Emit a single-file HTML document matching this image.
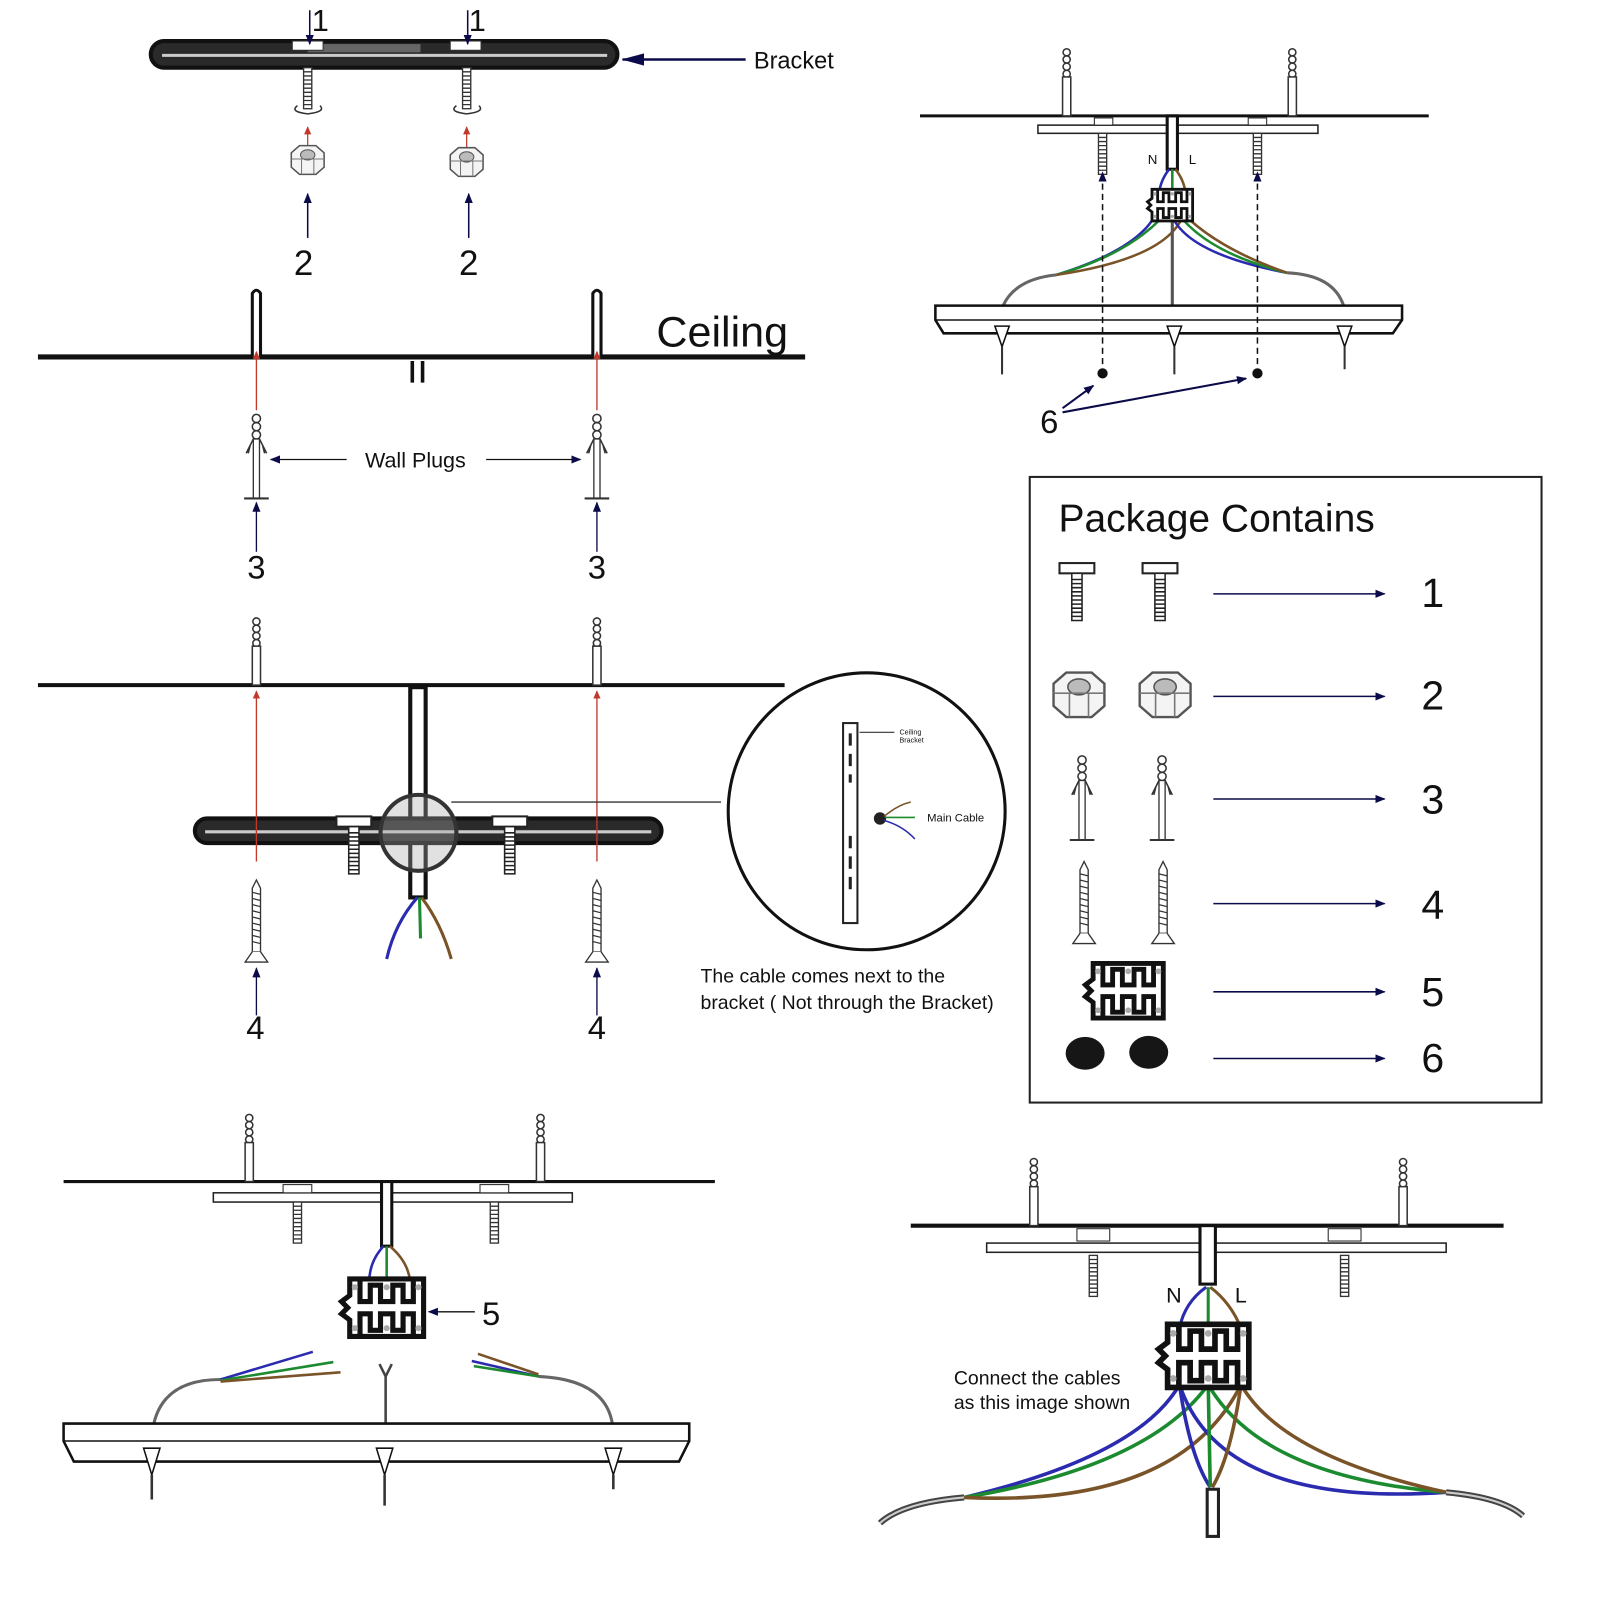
<!DOCTYPE html>
<html><head><meta charset="utf-8"><style>
html,body{margin:0;padding:0;background:#fff;width:1600px;height:1600px;overflow:hidden}
svg{display:block}
text{font-family:"Liberation Sans",sans-serif;fill:#111}
</style></head><body>
<svg width="1600" height="1600" viewBox="0 0 1560 1560" xmlns="http://www.w3.org/2000/svg">
<defs>
<marker id="an" markerWidth="10" markerHeight="8" refX="9" refY="4" orient="auto" markerUnits="userSpaceOnUse"><path d="M0,0 L10,4 L0,8 z" fill="#0b0b4a"/></marker>
<marker id="anb" markerWidth="22" markerHeight="12" refX="21" refY="6" orient="auto" markerUnits="userSpaceOnUse"><path d="M0,0 L22,6 L0,12 z" fill="#0b0b4a"/></marker>
<marker id="ar" markerWidth="8" markerHeight="7" refX="7" refY="3.5" orient="auto" markerUnits="userSpaceOnUse"><path d="M0,0 L8,3.5 L0,7 z" fill="#c0392b"/></marker>
<g id="plug">
<circle cx="0" cy="-36" r="4" fill="none" stroke="#333" stroke-width="1.5"/>
<circle cx="0" cy="-28" r="4" fill="none" stroke="#333" stroke-width="1.5"/>
<circle cx="0" cy="-20" r="4" fill="none" stroke="#333" stroke-width="1.5"/>
<path d="M-3,-16 L-10,-2 M3,-16 L10,-2 M-6,-10 L-8,-2 M6,-10 L8,-2" stroke="#333" stroke-width="1.5" fill="none"/>
<rect x="-3" y="-16" width="6" height="58" fill="#fff" stroke="#333" stroke-width="1.3"/>
<path d="M-12,42 L12,42" stroke="#333" stroke-width="2"/>
</g>
<g id="iplug">
<circle cx="0" cy="-62" r="3.5" fill="none" stroke="#333" stroke-width="1.5"/>
<circle cx="0" cy="-55" r="3.5" fill="none" stroke="#333" stroke-width="1.5"/>
<circle cx="0" cy="-48" r="3.5" fill="none" stroke="#333" stroke-width="1.5"/>
<circle cx="0" cy="-41" r="3.5" fill="none" stroke="#333" stroke-width="1.5"/>
<rect x="-4" y="-38" width="8" height="38" fill="#fff" stroke="#333" stroke-width="1.5"/>
</g>
<g id="screw">
<path d="M0,-42 L4,-34 L4,28 L-4,28 L-4,-34 z" fill="#fff" stroke="#333" stroke-width="1.3"/>
<path d="M-4,-30 L4,-28 M-4,-24 L4,-22 M-4,-18 L4,-16 M-4,-12 L4,-10 M-4,-6 L4,-4 M-4,0 L4,2 M-4,6 L4,8 M-4,12 L4,14 M-4,18 L4,20" stroke="#333" stroke-width="1.2"/>
<path d="M-4,28 L-11,38 L11,38 L4,28" fill="#fff" stroke="#333" stroke-width="1.3"/>
</g>
<g id="tscrew">
<rect x="-17" y="-6" width="34" height="10" fill="#fff" stroke="#222" stroke-width="2"/>
<rect x="-5" y="4" width="10" height="46" fill="#fff" stroke="#222" stroke-width="1.5"/>
<path d="M-5,10h10M-5,14h10M-5,18h10M-5,22h10M-5,26h10M-5,30h10M-5,34h10M-5,38h10M-5,42h10M-5,46h10" stroke="#222" stroke-width="1.5"/>
</g>
<g id="thr">
<rect x="-4" y="0" width="8" height="40" fill="#fff" stroke="#333" stroke-width="1.3"/>
<path d="M-4,4h8M-4,8h8M-4,12h8M-4,16h8M-4,20h8M-4,24h8M-4,28h8M-4,32h8M-4,36h8" stroke="#333" stroke-width="1.3"/>
</g>
<g id="nut">
<path d="M-16,-8 L-8,-15 L8,-15 L16,-8 L16,6 L8,13 L-8,13 L-16,6 z" fill="#f4f4f4" stroke="#555" stroke-width="1.5"/>
<ellipse cx="0" cy="-6" rx="7" ry="5" fill="#bbb" stroke="#555"/>
<path d="M-16,-2 L16,-2 M-6,-2 L-6,13 M6,-2 L6,13" stroke="#777" stroke-width="1"/>
</g>
<g id="conn">
<path d="M-36,-28 L36,-28 L36,28 L-36,28 L-36,12 L-44,6 L-38,0 L-44,-6 L-36,-12 z" fill="#fff" stroke="#111" stroke-width="5"/>
<path d="M-26,-28 L-26,-6 L-16,-6 L-16,-22 L-6,-22 L-6,-6 L6,-6 L6,-22 L16,-22 L16,-6 L26,-6 L26,-28" fill="none" stroke="#111" stroke-width="5"/>
<path d="M-26,28 L-26,6 L-16,6 L-16,22 L-6,22 L-6,6 L6,6 L6,22 L16,22 L16,6 L26,6 L26,28" fill="none" stroke="#111" stroke-width="5"/>
<circle cx="-31" cy="-20" r="3" fill="#aaa"/><circle cx="0" cy="-20" r="3" fill="#aaa"/><circle cx="31" cy="-20" r="3" fill="#aaa"/>
<circle cx="-31" cy="20" r="3" fill="#aaa"/><circle cx="0" cy="20" r="3" fill="#aaa"/><circle cx="31" cy="20" r="3" fill="#aaa"/>
</g>
</defs>

<!-- ===== Section 1 ===== -->
<rect x="147" y="40" width="455" height="26" rx="13" fill="#2a2a2a" stroke="#111" stroke-width="4"/>
<path d="M158,54 L592,54" stroke="#ccc" stroke-width="3"/>
<rect x="300" y="43" width="110" height="8" fill="#666"/>
<rect x="285" y="40" width="30" height="9" fill="#fff" stroke="#333"/>
<rect x="439" y="40" width="30" height="9" fill="#fff" stroke="#333"/>
<use href="#thr" x="300" y="66"/><use href="#thr" x="455" y="66"/>
<path d="M290,103 q-8,6 10,8 q18,-2 12,-8" fill="none" stroke="#333" stroke-width="1.5"/>
<path d="M445,103 q-8,6 10,8 q18,-2 12,-8" fill="none" stroke="#333" stroke-width="1.5"/>
<line x1="300" y1="150" x2="300" y2="124" stroke="#c0392b" stroke-width="1.2" marker-end="url(#ar)"/>
<line x1="455" y1="150" x2="455" y2="124" stroke="#c0392b" stroke-width="1.2" marker-end="url(#ar)"/>
<use href="#nut" x="300" y="157"/><use href="#nut" x="455" y="159"/>
<line x1="300" y1="232" x2="300" y2="189" stroke="#0b0b4a" stroke-width="1.5" marker-end="url(#an)"/>
<line x1="457" y1="232" x2="457" y2="189" stroke="#0b0b4a" stroke-width="1.5" marker-end="url(#an)"/>
<text x="296" y="268" font-size="34" text-anchor="middle">2</text>
<text x="457" y="268" font-size="34" text-anchor="middle">2</text>
<text x="304" y="30" font-size="30">1</text><text x="457" y="30" font-size="30">1</text>
<line x1="302" y1="10" x2="302" y2="43" stroke="#0b0b4a" stroke-width="1.5" marker-end="url(#an)"/>
<line x1="456" y1="10" x2="456" y2="43" stroke="#0b0b4a" stroke-width="1.5" marker-end="url(#an)"/>
<line x1="727" y1="58" x2="607" y2="58" stroke="#0b0b4a" stroke-width="2.5" marker-end="url(#anb)"/>
<text x="735" y="67" font-size="23">Bracket</text>

<!-- ===== Section 2 ===== -->
<line x1="37" y1="348" x2="785" y2="348" stroke="#111" stroke-width="5"/>
<path d="M246,348 L246,286 Q250,280 254,286 L254,348" fill="#fff" stroke="#111" stroke-width="3"/>
<path d="M578,348 L578,286 Q582,280 586,286 L586,348" fill="#fff" stroke="#111" stroke-width="3"/>
<path d="M402,352 V373 M412,352 V373" stroke="#111" stroke-width="3.5"/>
<text x="640" y="338" font-size="42">Ceiling</text>
<line x1="250" y1="400" x2="250" y2="343" stroke="#c0392b" stroke-width="1.3" marker-end="url(#ar)"/>
<line x1="582" y1="400" x2="582" y2="343" stroke="#c0392b" stroke-width="1.3" marker-end="url(#ar)"/>
<use href="#plug" x="250" y="444"/><use href="#plug" x="582" y="444"/>
<text x="405" y="456" font-size="21" text-anchor="middle">Wall Plugs</text>
<line x1="338" y1="448" x2="264" y2="448" stroke="#111" stroke-width="1.3" marker-end="url(#an)"/>
<line x1="474" y1="448" x2="566" y2="448" stroke="#111" stroke-width="1.3" marker-end="url(#an)"/>
<line x1="250" y1="538" x2="250" y2="490" stroke="#0b0b4a" stroke-width="1.3" marker-end="url(#an)"/>
<line x1="582" y1="538" x2="582" y2="490" stroke="#0b0b4a" stroke-width="1.3" marker-end="url(#an)"/>
<text x="250" y="564" font-size="32" text-anchor="middle">3</text>
<text x="582" y="564" font-size="32" text-anchor="middle">3</text>

<!-- ===== Section 3 ===== -->
<line x1="37" y1="668" x2="765" y2="668" stroke="#111" stroke-width="4"/>
<use href="#iplug" x="250" y="668"/><use href="#iplug" x="582" y="668"/>
<rect x="400" y="670" width="15" height="205" fill="#fff" stroke="#111" stroke-width="4"/>
<rect x="190" y="798" width="455" height="24" rx="12" fill="#2a2a2a" stroke="#111" stroke-width="4"/>
<path d="M200,811 L635,811" stroke="#ccc" stroke-width="3"/>
<use href="#tscrew" x="345" y="802"/><use href="#tscrew" x="497" y="802"/>
<circle cx="408" cy="812" r="37" fill="rgba(170,170,170,0.35)" stroke="#333" stroke-width="4"/>
<line x1="250" y1="840" x2="250" y2="674" stroke="#c0392b" stroke-width="1.3" marker-end="url(#ar)"/>
<line x1="582" y1="840" x2="582" y2="674" stroke="#c0392b" stroke-width="1.3" marker-end="url(#ar)"/>
<use href="#screw" x="250" y="900"/><use href="#screw" x="582" y="900"/>
<line x1="250" y1="990" x2="250" y2="944" stroke="#0b0b4a" stroke-width="1.3" marker-end="url(#an)"/>
<line x1="582" y1="990" x2="582" y2="944" stroke="#0b0b4a" stroke-width="1.3" marker-end="url(#an)"/>
<text x="249" y="1013" font-size="32" text-anchor="middle">4</text>
<text x="582" y="1013" font-size="32" text-anchor="middle">4</text>
<path d="M407,875 Q385,900 377,935" fill="none" stroke="#2b2bb0" stroke-width="3"/>
<path d="M409,875 L410,915" fill="none" stroke="#1c8a2e" stroke-width="3"/>
<path d="M411,875 Q430,900 440,935" fill="none" stroke="#7a5428" stroke-width="3"/>
<line x1="440" y1="782" x2="703" y2="782" stroke="#333" stroke-width="1.3"/>
<circle cx="845" cy="791" r="135" fill="#fff" stroke="#111" stroke-width="3"/>
<rect x="822" y="705" width="14" height="195" fill="#fff" stroke="#222" stroke-width="2"/>
<path d="M829,715v12M829,735v12M829,755v8M829,815v12M829,835v12M829,855v12" stroke="#222" stroke-width="3"/>
<line x1="838" y1="714" x2="872" y2="714" stroke="#333" stroke-width="1"/>
<text x="877" y="716" font-size="7">Ceiling</text><text x="877" y="724" font-size="7">Bracket</text>
<circle cx="858" cy="798" r="6" fill="#222"/>
<path d="M862,796 Q875,785 888,782" fill="none" stroke="#7a5428" stroke-width="1.5"/>
<path d="M863,797 L892,797" stroke="#1c8a2e" stroke-width="1.5"/>
<path d="M862,800 Q880,805 892,818" fill="none" stroke="#2b2bb0" stroke-width="1.5"/>
<text x="904" y="801" font-size="11">Main Cable</text>
<text x="683" y="958" font-size="19">The cable comes next to the</text>
<text x="683" y="984" font-size="19">bracket ( Not through the Bracket)</text>

<!-- ===== Section 4 (top right) ===== -->
<line x1="897" y1="113" x2="1393" y2="113" stroke="#111" stroke-width="3"/>
<use href="#iplug" x="1040" y="113"/><use href="#iplug" x="1260" y="113"/>
<rect x="1012" y="122" width="273" height="8" fill="#fff" stroke="#222" stroke-width="1.5"/>
<rect x="1067" y="115" width="18" height="7" fill="#fff" stroke="#222"/>
<rect x="1217" y="115" width="18" height="7" fill="#fff" stroke="#222"/>
<use href="#thr" x="1075" y="130"/>
<use href="#thr" x="1226" y="130"/>
<rect x="1138" y="113" width="10" height="52" fill="#fff" stroke="#111" stroke-width="3"/>
<text x="1119" y="160" font-size="13">N</text><text x="1159" y="160" font-size="13">L</text>
<path d="M1140,165 Q1128,180 1130,200 Q1120,240 1030,268" fill="none" stroke="#2b2bb0" stroke-width="2.5"/>
<path d="M1143,165 L1143,200 Q1110,245 1030,268" fill="none" stroke="#1c8a2e" stroke-width="2.5"/>
<path d="M1146,165 Q1158,180 1156,200 Q1150,250 1030,268" fill="none" stroke="#7a5428" stroke-width="2.5"/>
<path d="M1140,200 Q1145,245 1255,266" fill="none" stroke="#2b2bb0" stroke-width="2.5"/>
<path d="M1143,200 Q1170,245 1255,266" fill="none" stroke="#1c8a2e" stroke-width="2.5"/>
<path d="M1146,200 Q1180,240 1255,266" fill="none" stroke="#7a5428" stroke-width="2.5"/>
<path d="M1143,200 L1143,298" stroke="#555" stroke-width="3"/>
<path d="M1030,268 Q990,272 978,298" fill="none" stroke="#666" stroke-width="3"/>
<path d="M1255,266 Q1300,268 1310,298" fill="none" stroke="#666" stroke-width="3"/>
<g transform="translate(1143,200) scale(0.55)"><use href="#conn"/></g>
<path d="M912,298 L1367,298 L1367,312 L1358,325 L920,325 L912,312 z" fill="#fff" stroke="#111" stroke-width="2.5"/>
<line x1="912" y1="312" x2="1367" y2="312" stroke="#111" stroke-width="1.5"/>
<path d="M970,318 L984,318 L977,338 z M1138,318 L1152,318 L1145,338 z M1304,318 L1318,318 L1311,338 z" fill="#fff" stroke="#111" stroke-width="1.5"/>
<path d="M977,338 V365 M1145,338 V365 M1311,338 V360" stroke="#333" stroke-width="2"/>
<line x1="1075" y1="355" x2="1075" y2="168" stroke="#111" stroke-width="1.5" stroke-dasharray="6,4" marker-end="url(#an)"/>
<line x1="1226" y1="355" x2="1226" y2="168" stroke="#111" stroke-width="1.5" stroke-dasharray="6,4" marker-end="url(#an)"/>
<circle cx="1075" cy="364" r="5" fill="#111"/><circle cx="1226" cy="364" r="5" fill="#111"/>
<text x="1023" y="422" font-size="32" text-anchor="middle">6</text>
<line x1="1036" y1="398" x2="1066" y2="376" stroke="#0b0b4a" stroke-width="2" marker-end="url(#an)"/>
<line x1="1036" y1="402" x2="1215" y2="369" stroke="#0b0b4a" stroke-width="2" marker-end="url(#an)"/>

<!-- ===== Package Contains ===== -->
<rect x="1004" y="465" width="499" height="610" fill="none" stroke="#222" stroke-width="2"/>
<text x="1032" y="518" font-size="38">Package Contains</text>
<use href="#tscrew" x="1050" y="555"/><use href="#tscrew" x="1131" y="555"/>
<g transform="translate(1052,679) scale(1.55)"><use href="#nut"/></g>
<g transform="translate(1136,679) scale(1.55)"><use href="#nut"/></g>
<use href="#plug" x="1055" y="777"/><use href="#plug" x="1133" y="777"/>
<use href="#screw" x="1057" y="882"/><use href="#screw" x="1134" y="882"/>
<g transform="translate(1100,966) scale(0.95)"><use href="#conn"/></g>
<ellipse cx="1058" cy="1027" rx="19" ry="16" fill="#161616"/><ellipse cx="1120" cy="1026" rx="19" ry="16" fill="#161616"/>
<g stroke="#0b0b4a" stroke-width="1.5">
<line x1="1183" y1="579" x2="1350" y2="579" marker-end="url(#an)"/>
<line x1="1183" y1="679" x2="1350" y2="679" marker-end="url(#an)"/>
<line x1="1183" y1="779" x2="1350" y2="779" marker-end="url(#an)"/>
<line x1="1183" y1="881" x2="1350" y2="881" marker-end="url(#an)"/>
<line x1="1183" y1="967" x2="1350" y2="967" marker-end="url(#an)"/>
<line x1="1183" y1="1032" x2="1350" y2="1032" marker-end="url(#an)"/>
</g>
<g font-size="40" text-anchor="middle">
<text x="1397" y="592">1</text><text x="1397" y="692">2</text><text x="1397" y="793">3</text>
<text x="1397" y="896">4</text><text x="1397" y="981">5</text><text x="1397" y="1045">6</text>
</g>

<!-- ===== Section 5 (bottom left) ===== -->
<line x1="62" y1="1152" x2="697" y2="1152" stroke="#111" stroke-width="3"/>
<use href="#iplug" x="243" y="1152"/><use href="#iplug" x="527" y="1152"/>
<rect x="208" y="1163" width="350" height="9" fill="#fff" stroke="#222" stroke-width="1.5"/>
<rect x="276" y="1155" width="28" height="8" fill="#fff" stroke="#222"/>
<rect x="468" y="1155" width="28" height="8" fill="#fff" stroke="#222"/>
<use href="#thr" x="290" y="1172"/><use href="#thr" x="482" y="1172"/>
<rect x="372" y="1152" width="10" height="63" fill="#fff" stroke="#111" stroke-width="3"/>
<path d="M374,1215 Q360,1230 360,1250" fill="none" stroke="#2b2bb0" stroke-width="2.5"/>
<path d="M377,1215 L377,1250" stroke="#1c8a2e" stroke-width="2.5"/>
<path d="M380,1215 Q398,1230 400,1250" fill="none" stroke="#7a5428" stroke-width="2.5"/>
<use href="#conn" x="377" y="1275"/>
<line x1="463" y1="1279" x2="418" y2="1279" stroke="#111" stroke-width="1.3" marker-end="url(#an)"/>
<text x="470" y="1292" font-size="32">5</text>
<path d="M150,1388 Q160,1345 215,1345" fill="none" stroke="#666" stroke-width="3"/>
<path d="M215,1345 L305,1318" stroke="#2b2bb0" stroke-width="2.5"/>
<path d="M215,1346 L325,1328" stroke="#1c8a2e" stroke-width="2.5"/>
<path d="M215,1347 L332,1338" stroke="#7a5428" stroke-width="2.5"/>
<path d="M597,1388 Q590,1345 525,1342" fill="none" stroke="#666" stroke-width="3"/>
<path d="M525,1342 L460,1327" stroke="#2b2bb0" stroke-width="2.5"/>
<path d="M525,1342 L462,1332" stroke="#1c8a2e" stroke-width="2.5"/>
<path d="M525,1340 L466,1320" stroke="#7a5428" stroke-width="2.5"/>
<path d="M376,1388 V1342 M370,1330 L376,1342 L382,1330" fill="none" stroke="#444" stroke-width="2.5"/>
<path d="M62,1388 L672,1388 L672,1405 L662,1425 L72,1425 L62,1405 z" fill="#fff" stroke="#111" stroke-width="2.5"/>
<line x1="62" y1="1405" x2="672" y2="1405" stroke="#111" stroke-width="1.5"/>
<path d="M140,1412 L156,1412 L148,1438 z M367,1412 L383,1412 L375,1438 z M590,1412 L606,1412 L598,1438 z" fill="#fff" stroke="#111" stroke-width="1.5"/>
<path d="M148,1438 V1462 M375,1438 V1468 M598,1438 V1452" stroke="#333" stroke-width="2.5"/>

<!-- ===== Section 6 (bottom right) ===== -->
<line x1="888" y1="1195" x2="1466" y2="1195" stroke="#111" stroke-width="4"/>
<use href="#iplug" x="1008" y="1195"/><use href="#iplug" x="1368" y="1195"/>
<rect x="962" y="1212" width="448" height="9" fill="#fff" stroke="#222" stroke-width="1.5"/>
<rect x="1050" y="1198" width="32" height="12" fill="#fff" stroke="#222"/>
<rect x="1295" y="1198" width="32" height="12" fill="#fff" stroke="#222"/>
<use href="#thr" x="1066" y="1224"/><use href="#thr" x="1311" y="1224"/>
<rect x="1170" y="1195" width="15" height="57" fill="#fff" stroke="#111" stroke-width="3"/>
<text x="1137" y="1270" font-size="21">N</text><text x="1204" y="1270" font-size="21">L</text>
<path d="M1176,1255 Q1155,1270 1150,1295" fill="none" stroke="#2b2bb0" stroke-width="3"/>
<path d="M1178,1255 L1178,1295" stroke="#1c8a2e" stroke-width="3"/>
<path d="M1180,1255 Q1200,1270 1210,1295" fill="none" stroke="#7a5428" stroke-width="3"/>
<g fill="none" stroke-width="3.5">
<path d="M1150,1350 Q1110,1420 940,1460" stroke="#2b2bb0"/>
<path d="M1178,1350 Q1120,1430 940,1460" stroke="#1c8a2e"/>
<path d="M1210,1350 Q1150,1470 940,1460" stroke="#7a5428"/>
<path d="M1150,1350 Q1190,1470 1410,1455" stroke="#2b2bb0"/>
<path d="M1178,1350 Q1230,1440 1410,1455" stroke="#1c8a2e"/>
<path d="M1210,1350 Q1250,1420 1410,1455" stroke="#7a5428"/>
<path d="M1150,1350 Q1160,1420 1180,1450" stroke="#2b2bb0"/>
<path d="M1178,1350 L1180,1450" stroke="#1c8a2e"/>
<path d="M1210,1350 Q1200,1420 1182,1450" stroke="#7a5428"/>
</g>
<path d="M940,1460 Q880,1465 858,1485" fill="none" stroke="#444" stroke-width="6"/>
<path d="M940,1460 Q880,1465 858,1485" fill="none" stroke="#ccc" stroke-width="2"/>
<path d="M1410,1455 Q1465,1460 1485,1478" fill="none" stroke="#444" stroke-width="6"/>
<path d="M1410,1455 Q1465,1460 1485,1478" fill="none" stroke="#ccc" stroke-width="2"/>
<rect x="1177" y="1452" width="11" height="46" fill="#fff" stroke="#222" stroke-width="3"/>
<g transform="translate(1178,1322) scale(1.1)"><use href="#conn"/></g>
<text x="930" y="1350" font-size="19">Connect the cables</text>
<text x="930" y="1374" font-size="19">as this image shown</text>
</svg>
</body></html>
